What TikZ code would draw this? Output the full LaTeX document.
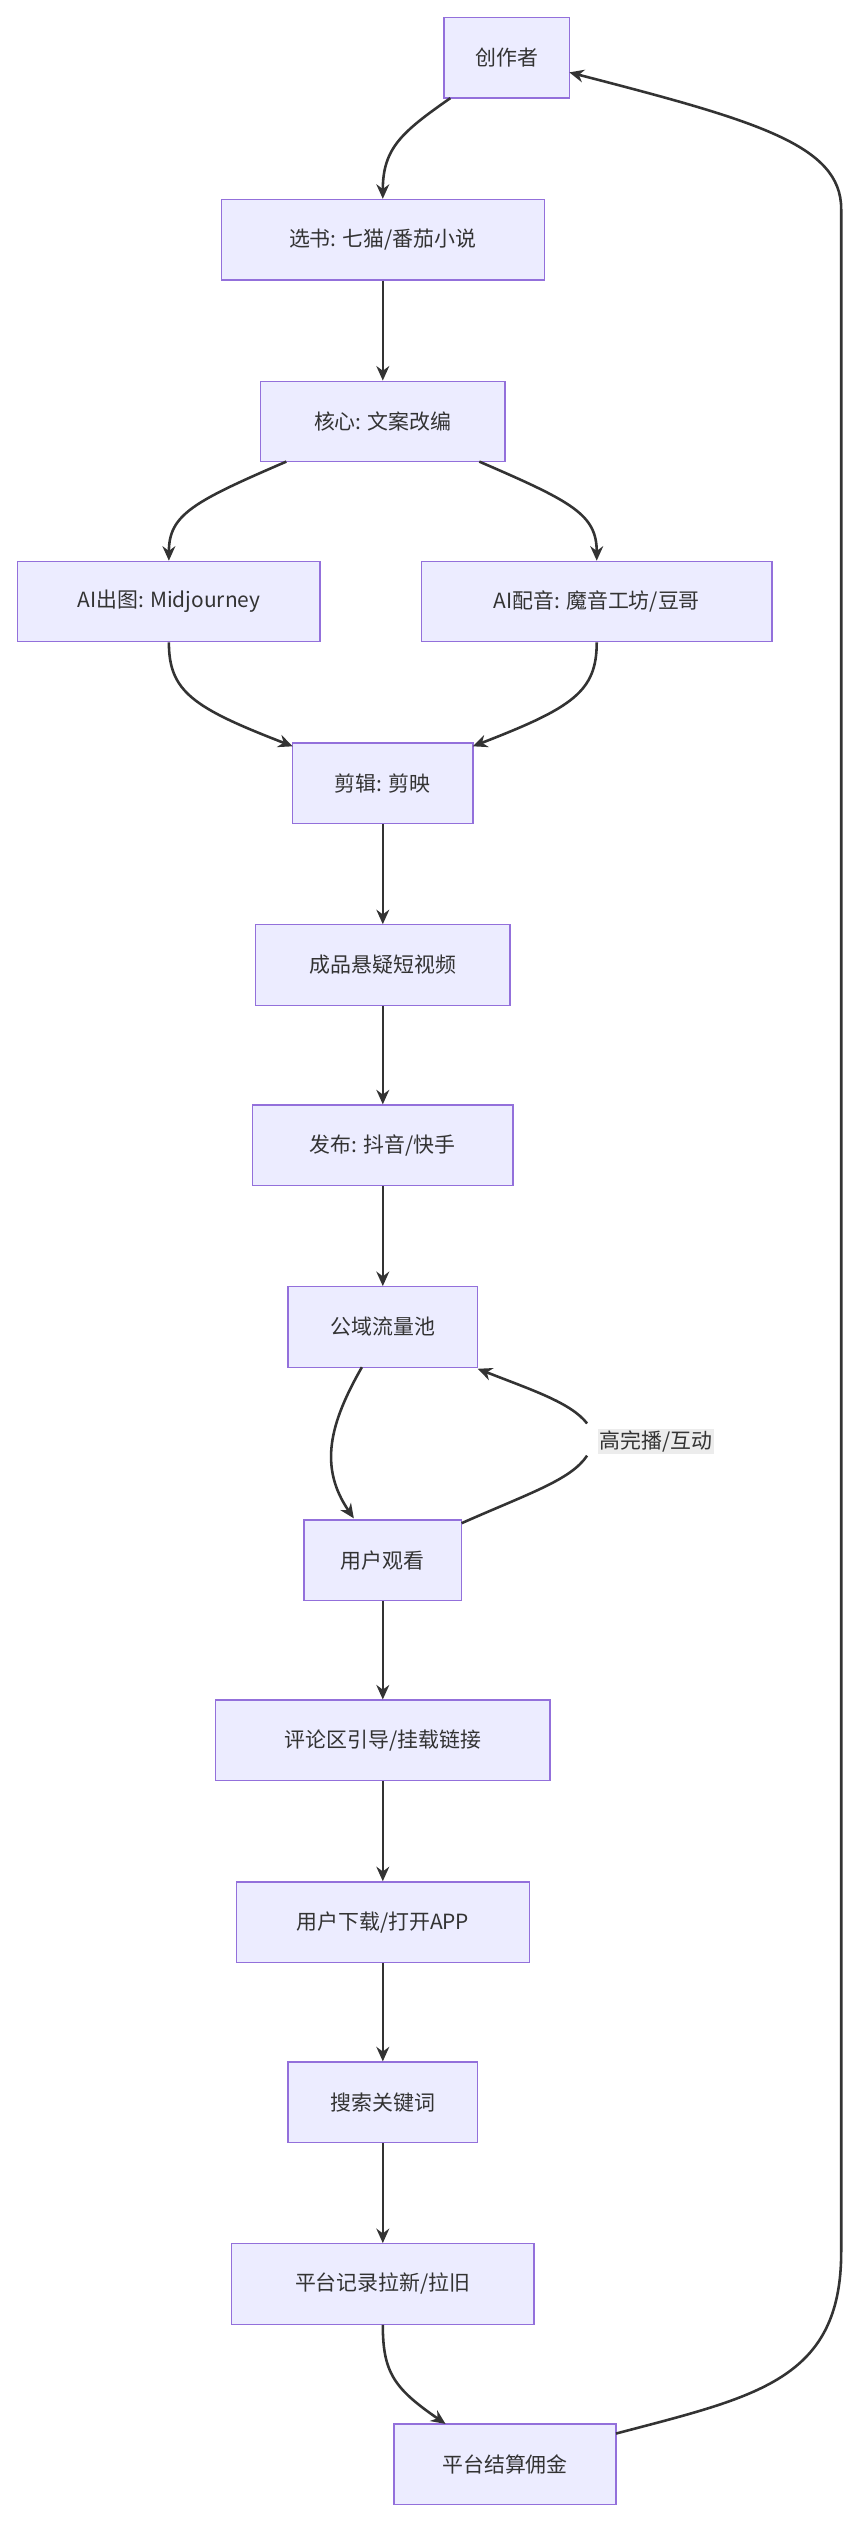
\documentclass[tikz,border=0pt]{standalone}
\usepackage{fontspec}
\setmainfont{Noto Sans CJK SC}
\usetikzlibrary{arrows.meta}
\definecolor{nfill}{HTML}{ECECFF}
\definecolor{nline}{HTML}{9370DB}
\definecolor{aline}{HTML}{333333}
\begin{document}
\begin{tikzpicture}[x=1pt,y=-1pt,
  box/.style={draw=nline,fill=nfill,line width=0.8pt,minimum height=50pt,inner xsep=0pt,font=\fontsize{13}{15}\selectfont,text=aline},
  arr/.style={draw=aline,line width=1.6pt,-{Stealth[length=9pt,width=8pt]}}]
\useasboundingbox (0,0) rectangle (535,1568);
\node[box,minimum width=78pt] (a) at (315,36) {创作者};
\node[box,minimum width=201pt] (b) at (238,149) {选书: 七猫/番茄小说};
\node[box,minimum width=152pt] (c) at (238,262) {核心: 文案改编};
\node[box,minimum width=188pt] (d) at (105,374) {AI出图: Midjourney};
\node[box,minimum width=218pt] (e) at (371,374) {AI配音: 魔音工坊/豆哥};
\node[box,minimum width=112pt] (f) at (238,487) {剪辑: 剪映};
\node[box,minimum width=158pt] (g) at (238,600) {成品悬疑短视频};
\node[box,minimum width=162pt] (h) at (238,712) {发布: 抖音/快手};
\node[box,minimum width=118pt] (i) at (238,825) {公域流量池};
\node[box,minimum width=98pt] (j) at (238,970) {用户观看};
\node[box,minimum width=208pt] (k) at (238,1082) {评论区引导/挂载链接};
\node[box,minimum width=182pt] (l) at (238,1195) {用户下载/打开APP};
\node[box,minimum width=118pt] (m) at (238,1307) {搜索关键词};
\node[box,minimum width=188pt] (n) at (238,1420) {平台记录拉新/拉旧};
\node[box,minimum width=138pt] (o) at (314,1532) {平台结算佣金};
\node[fill=gray!15,inner sep=1pt,font=\fontsize{13}{15}\selectfont,text=aline] (lb) at (408,896) {高完播/互动};
\draw[arr] (280,61) .. controls (250,82) and (238,92) .. (b.north);
\draw[arr] (b) -- (c);
\draw[arr] (178,287) .. controls (120,312) and (105,320) .. (d.north);
\draw[arr] (298,287) .. controls (356,312) and (371,320) .. (e.north);
\draw[arr] (d.south) .. controls (105,430) and (120,440) .. (182,464);
\draw[arr] (e.south) .. controls (371,430) and (356,440) .. (294,464);
\draw[arr] (f) -- (g);
\draw[arr] (g) -- (h);
\draw[arr] (h) -- (i);
\draw[arr] (225,850) .. controls (205,885) and (198,912) .. (220,944);
\draw[aline,line width=1.6pt] (287,947) .. controls (330,928) and (355,920) .. (365,905);
\draw[arr] (365,885) .. controls (355,872) and (330,864) .. (297,851);
\draw[arr] (j) -- (k);
\draw[arr] (k) -- (l);
\draw[arr] (l) -- (m);
\draw[arr] (m) -- (n);
\draw[arr] (n.south) .. controls (238,1475) and (245,1485) .. (277,1507);
\draw[arr] (383,1513) .. controls (470,1490) and (523,1480) .. (523,1400) -- (523,130) .. controls (523,90) and (470,75) .. (354,45);
\end{tikzpicture}
\end{document}
